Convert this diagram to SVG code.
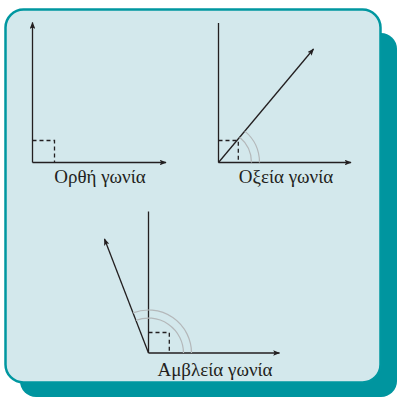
<svg xmlns="http://www.w3.org/2000/svg" width="397" height="397" viewBox="0 0 397 397">
<defs>
<marker id="ah" viewBox="0 0 10 8" refX="9" refY="4" markerWidth="7" markerHeight="5.6" markerUnits="userSpaceOnUse" orient="auto">
<path d="M0,0 L10,4 L0,8 L2,4 Z" fill="#231f20"/>
</marker>
</defs>
<style>
.ax{stroke:#231f20;stroke-width:1.3;fill:none}
.ds{stroke:#231f20;stroke-width:1.3;fill:none;stroke-dasharray:4,3}
.arc{stroke:#b4b8ba;stroke-width:1.2;fill:none}
.lb{font-family:"Liberation Serif","Times New Roman",serif;font-size:19px;fill:#231f20;text-anchor:middle}
</style>
<g id="frame">
<rect x="20" y="33" width="377" height="364" rx="16" fill="#00959f"/>
<rect x="5.5" y="9.5" width="375" height="373" rx="18" fill="#d3e8ec" stroke="#0097a0" stroke-width="2.5"/>
</g>
<g id="connectors">
<line class="ax" x1="32.5" y1="162.5" x2="32.5" y2="22.5" marker-end="url(#ah)"/>
<line class="ax" x1="32.5" y1="162.5" x2="166" y2="162.5" marker-end="url(#ah)"/>
<line class="ax" x1="218.5" y1="162.5" x2="218.5" y2="23"/>
<line class="ax" x1="218.5" y1="162.5" x2="351" y2="162.5" marker-end="url(#ah)"/>
<line class="ax" x1="218.5" y1="162.5" x2="313.5" y2="49" marker-end="url(#ah)"/>
<line class="ax" x1="148.5" y1="353" x2="148.5" y2="211.5"/>
<line class="ax" x1="148.5" y1="353" x2="279.5" y2="353" marker-end="url(#ah)"/>
<line class="ax" x1="148.5" y1="353" x2="104.5" y2="239" marker-end="url(#ah)"/>
</g>
<g id="right-angle">
<path class="ds" d="M32.5,140.5 H54.5 V162.5"/>
<text class="lb" x="100" y="182.5">Ορθή γωνία</text>
</g>
<g id="acute-angle">
<path class="ds" d="M218.5,140.5 H238.3 V162.5"/>
<path class="arc" d="M251.5,162.5 A33,33 0 0 0 239.7,137.2"/>
<path class="arc" d="M259.5,162.5 A41,41 0 0 0 244.8,131.1"/>
<text class="lb" x="286" y="182.5">Οξεία γωνία</text>
</g>
<g id="obtuse-angle">
<path class="ds" d="M148.5,332.5 H169.3 V353"/>
<path class="arc" d="M183.5,353 A35,35 0 0 0 135.9,320.4"/>
<path class="arc" d="M191.5,353 A43,43 0 0 0 133,312.9"/>
<text class="lb" x="215" y="375.5">Αμβλεία γωνία</text>
</g>
</svg>
